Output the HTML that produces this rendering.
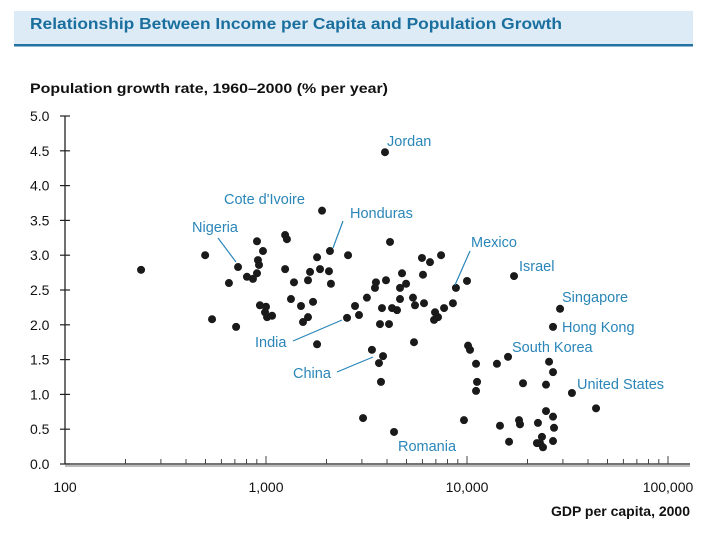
<!DOCTYPE html>
<html><head><meta charset="utf-8"><style>
body{margin:0;background:#fff;width:720px;height:540px;overflow:hidden;font-family:"Liberation Sans",sans-serif}
</style></head><body>
<svg id="chart" width="720" height="540" xmlns="http://www.w3.org/2000/svg">
<rect x="14" y="11" width="679" height="33" fill="#dcebf6"/>
<rect x="14" y="44" width="679" height="2.5" fill="#2472a4"/>
<text x="30" y="29" font-size="16" font-weight="bold" fill="#1a6f9e" textLength="532" lengthAdjust="spacingAndGlyphs">Relationship Between Income per Capita and Population Growth</text>
<text x="30" y="93" font-size="14" font-weight="bold" fill="#111" textLength="358" lengthAdjust="spacingAndGlyphs">Population growth rate, 1960–2000 (% per year)</text>
<text x="690" y="516" font-size="14" font-weight="bold" fill="#111" text-anchor="end">GDP per capita, 2000</text>
<g id="axes"></g><g id="pts"></g><g id="labels"></g>
</svg>
<script>
const gdp=[239,498,726,902,966,912,923,902,804,861,654,539,710,1245,1271,1245,1378,1795,2080,2560,1900,4140,1857,2057,1656,1618,2104,1331,1493,1714,933,1000,989,1072,1012,1618,1528,1795,2773,2530,2902,3177,3524,3484,3953,4750,4976,4642,4642,5386,5512,6110,5970,6546,7430,6040,3776,4236,4486,3690,4093,6934,7178,6855,7690,8510,8810,10000,5449,3365,3822,3648,3733,3040,4335,9660,10120,10350,11090,11220,11090,17140,29040,26790,16000,14090,19000,24720,25600,26790,33270,43850,14590,18150,18350,16190,22540,24720,26790,27100,26790,23600,22280,23880,23070,3908];
const growth=[2.79,3.00,2.83,3.20,3.06,2.93,2.86,2.74,2.69,2.66,2.60,2.08,1.97,3.29,3.23,2.80,2.61,2.97,3.06,3.00,3.64,3.19,2.80,2.77,2.76,2.64,2.59,2.37,2.27,2.33,2.28,2.26,2.18,2.13,2.11,2.11,2.04,1.72,2.27,2.10,2.14,2.39,2.61,2.53,2.64,2.74,2.59,2.53,2.37,2.39,2.28,2.31,2.96,2.90,3.00,2.72,2.24,2.24,2.21,2.01,2.01,2.18,2.11,2.07,2.24,2.31,2.53,2.63,1.75,1.64,1.55,1.45,1.18,0.66,0.46,0.63,1.70,1.64,1.44,1.18,1.05,2.70,2.23,1.97,1.54,1.44,1.16,1.14,1.47,1.32,1.02,0.80,0.55,0.63,0.57,0.32,0.59,0.76,0.68,0.52,0.33,0.39,0.30,0.24,0.30,4.48];
const yTicks=[0,0.5,1,1.5,2,2.5,3,3.5,4,4.5,5];
const yTickLabels=["0.0","0.5","1.0","1.5","2.0","2.5","3.0","3.5","4.0","4.5","5.0"];
const xTicks=[100,1000,10000,100000];
const xTickLabels=["100","1,000","10,000","100,000"];
const X=v=>65+201*(Math.log10(v)-2);
const Y=v=>464-69.6*v;
const NS="http://www.w3.org/2000/svg";
function mk(tag,attrs,parent,txt){const e=document.createElementNS(NS,tag);for(const k in attrs)e.setAttribute(k,attrs[k]);if(txt!==undefined)e.textContent=txt;parent.appendChild(e);return e;}
const ax=document.getElementById('axes');
let e=mk('line',{x1:65,y1:466,x2:690,y2:466,stroke:'#bbb','stroke-width':2},ax);


e=mk('line',{x1:65,y1:464,x2:690,y2:464,stroke:'#222','stroke-width':1.3},ax);


e=mk('line',{x1:65,y1:Y(5),x2:65,y2:464,stroke:'#222','stroke-width':1.3},ax);


yTicks.forEach((t,i)=>{
 e=mk('line',{x1:60,y1:Y(t),x2:70,y2:Y(t),stroke:'#222','stroke-width':1.2},ax);
 
 
 e=mk('text',{x:30,y:Y(t)+5,'font-size':14,fill:'#111'},ax,yTickLabels[i]);
 
 
});
for(let d=100;d<100000;d*=10){for(let m=2;m<=10;m++){const v=d*m;const big=m===10;
 e=mk('line',{x1:X(v),y1:464,x2:X(v),y2:big?456:459,stroke:'#444','stroke-width':1},ax);
 
 }}
xTicks.forEach((t,i)=>{
 e=mk('text',{x:X(t),y:492,'font-size':14,fill:'#111','text-anchor':'middle'},ax,xTickLabels[i]);
 
 
});
const pg=document.getElementById('pts');
gdp.forEach((g,i)=>{
 const c=mk('circle',{cx:X(g),cy:Y(growth[i]),r:4,fill:'#1a1a1a'},pg);
 
 
});
const lbl=[["Jordan",387,146],["Cote d'Ivoire",224,204],["Honduras",350,218],["Nigeria",192,232],["Mexico",471,247],["Israel",519,271],["Singapore",562,302],["Hong Kong",562,332],["South Korea",512,352],["India",255,347],["China",293,378],["United States",577,389],["Romania",398,451]];
const lines=[[218,238,236,262],[343,221,333,248],[470,251,455,285],[293,341,342,320],[337,372,373,357]];
const lg=document.getElementById('labels');
lines.forEach(l=>{
 e=mk('line',{x1:l[0],y1:l[1],x2:l[2],y2:l[3],stroke:'#2a86b8','stroke-width':1.2},lg);
 
 
});
lbl.forEach(l=>{
 e=mk('text',{x:l[1],y:l[2],'font-size':14.5,fill:'#2a86b8'},lg,l[0]);
 
 
});
</script>
</body></html>
